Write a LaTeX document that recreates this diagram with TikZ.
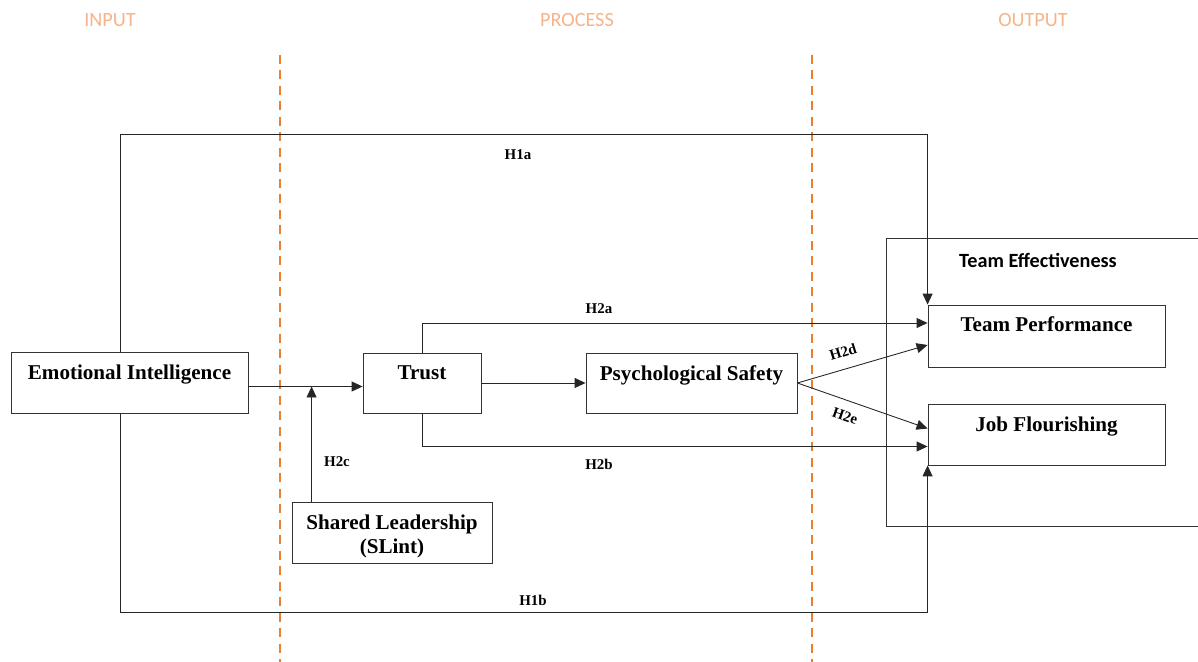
\documentclass[tikz,border=0pt]{standalone}
\usepackage{fontspec}
\setmainfont{Liberation Serif}
\newfontfamily\calibri{Carlito}
\usetikzlibrary{positioning, calc, arrows.meta}
\definecolor{phaseorange}{HTML}{F5B489}
\definecolor{lineorange}{HTML}{ED7D31}

\begin{document}
\begin{tikzpicture}
    [x=0.02cm, y=-0.02cm,
    box/.style={rectangle, draw=black!80, line width=0.5pt},
    boxtext/.style={inner sep=0pt, font=\fontsize{12}{13.6}\selectfont\bfseries, align=center},
    hyp/.style={inner sep=1pt, font=\fontsize{8.5}{10}\selectfont\bfseries},
    phase/.style={font=\calibri\fontsize{11.5}{13}\selectfont, text=phaseorange},
    divider/.style={draw=lineorange, line width=1.2pt, dash pattern=on 0.18cm off 0.13cm},
    arrow/.style={draw=black!85, line width=0.5pt, -{Triangle[length=0.22cm, width=0.2cm]}},]

    \useasboundingbox (0,0) rectangle (1198,662);

    %Phases
    \node[phase](input) at (110,20) {INPUT};
    \node[phase](process) at (577,20) {PROCESS};
    \node[phase](output) at (1033,20) {OUTPUT};
    \draw[divider] (280,55) -- (280,662);
    \draw[divider] (812,55) -- (812,662);

    %Nodes
    \node[box, minimum width=4.74cm, minimum height=1.22cm](ei) at (129.5,382.5) {};
    \node[boxtext][below=0.25cm of ei.north] {Emotional Intelligence};

    \node[box, minimum width=2.36cm, minimum height=1.2cm](trust) at (422,383) {};
    \node[boxtext][below=0.25cm of trust.north] {Trust};

    \node[box, minimum width=4.22cm, minimum height=1.2cm](psych) at (691.5,383) {};
    \node[boxtext][below=0.25cm of psych.north] {Psychological Safety};

    \node[box, minimum width=4cm, minimum height=1.22cm](shared) at (392,532.5) {};
    \node[boxtext][below=0.26cm of shared.north] {Shared Leadership\\(SLint)};

    \node[box, minimum width=6.6cm, minimum height=5.76cm](team) at (1051,382) {};
    \node[inner sep=0pt, font=\calibri\fontsize{11.5}{13}\selectfont\bfseries]
        [below=0.3cm of team.north, xshift=-0.26cm] {Team Effectiveness};

    \node[box, minimum width=4.74cm, minimum height=1.24cm](tp) at (1046.5,336) {};
    \node[boxtext][below=0.24cm of tp.north] {Team Performance};

    \node[box, minimum width=4.74cm, minimum height=1.22cm](jf) at (1046.5,434.5) {};
    \node[boxtext][below=0.25cm of jf.north] {Job Flourishing};

    %Lines
    \coordinate (h1a) at (120,134);
    \coordinate (h1b) at (120,612);
    \coordinate (eiout) at ($(ei.east)+(0,4)$);
    \coordinate (slin) at ($(shared.north west)+(20,0)$);

    \draw[arrow] (ei.north -| h1a) -- (h1a) -| (tp.north west);
    \draw[arrow] (ei.south -| h1b) -- (h1b) -| (jf.south west);
    \draw[arrow] (eiout) -- (eiout -| trust.west);
    \draw[arrow] (slin) -- (slin |- eiout);
    \draw[arrow] (trust) -- (psych);
    \draw[arrow] (trust.north) |- ($(tp.west)+(0,-13)$);
    \draw[arrow] (trust.south) |- ($(jf.west)+(0,12)$);
    \draw[arrow] (psych.east) -- ($(tp.west)+(0,9)$);
    \draw[arrow] (psych.east) -- ($(jf.west)+(0,-6)$);

    %Labels
    \node[hyp](h1alab) at (518,155) {H1a};
    \node[hyp](h1blab) at (533,600) {H1b};
    \node[hyp](h2alab) at (599,309) {H2a};
    \node[hyp](h2blab) at (599,464) {H2b};
    \node[hyp](h2clab) at (337,462) {H2c};
    \node[hyp, rotate=17](h2dlab) at (843,352) {H2d};
    \node[hyp, rotate=-19](h2elab) at (845,416) {H2e};
\end{tikzpicture}
\end{document}
